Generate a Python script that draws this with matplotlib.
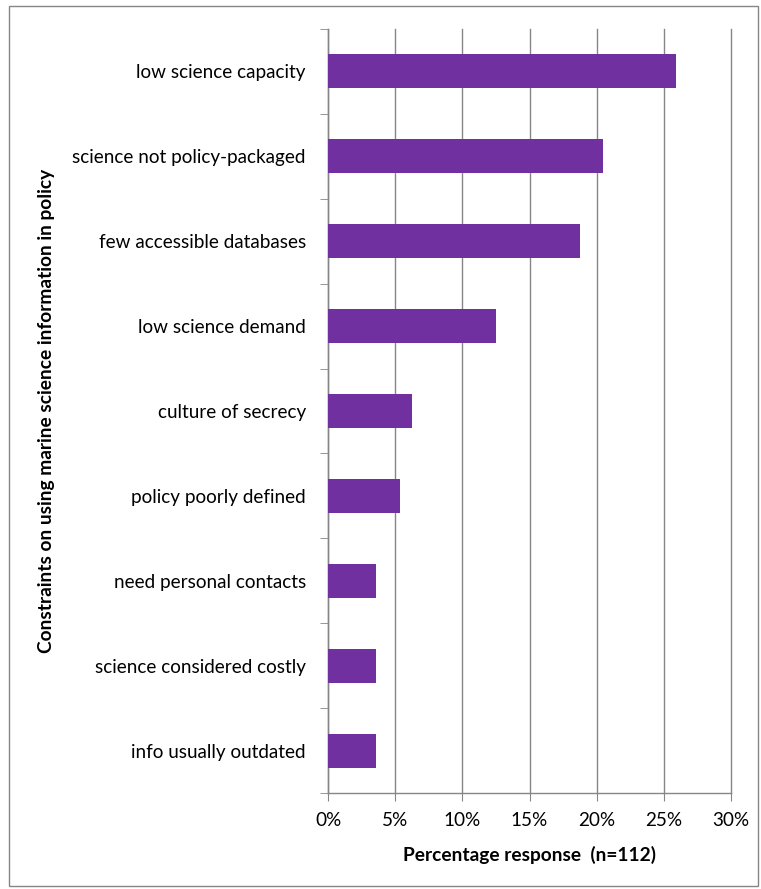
#!/usr/bin/env python3

from matplotlib import pyplot as plt
from matplotlib.patches import Rectangle
from matplotlib.ticker import FuncFormatter, FixedLocator

# categories listed top to bottom, as in the chart
CONSTRAINTS = [
    'low science capacity',
    'science not policy-packaged',
    'few accessible databases',
    'low science demand',
    'culture of secrecy',
    'policy poorly defined',
    'need personal contacts',
    'science considered costly',
    'info usually outdated',
]
PERCENT = [25.9, 20.5, 18.75, 12.5, 6.25, 5.36, 3.57, 3.57, 3.57]
X_TICKS = [0, 5, 10, 15, 20, 25, 30]

BAR_COLOR = '#7030A0'
GRID_COLOR = '#868686'

plt.rcParams['font.family'] = ['Lato', 'DejaVu Sans']

fig = plt.figure(figsize=(7.61, 8.89), dpi=100)
W, H = 761, 889
ax = fig.add_axes([328 / W, 1 - 793 / H, (731 - 328) / W, (793 - 29) / H])

n = len(CONSTRAINTS)
ypos = list(range(n))[::-1]
ax.barh(ypos, PERCENT, height=0.4, color=BAR_COLOR, zorder=3)

ax.set_xlim(0, 30)
ax.set_ylim(-0.5, n - 0.5)
ax.set_xticks(X_TICKS)
ax.xaxis.set_major_formatter(FuncFormatter(lambda v, p: f'{int(v)}%'))
ax.set_yticks(ypos)
ax.set_yticklabels(CONSTRAINTS)
ax.yaxis.set_minor_locator(FixedLocator([i - 0.5 for i in range(n + 1)]))
ax.tick_params(axis='y', which='major', length=0, pad=16, labelsize=13.6)
ax.tick_params(axis='y', which='minor', length=6, color=GRID_COLOR, direction='out')
ax.tick_params(axis='x', length=6, color=GRID_COLOR, labelsize=13.6, pad=8)

ax.grid(axis='x', color=GRID_COLOR, linewidth=1, zorder=0)
for gl in ax.get_xgridlines():
    gl.set_clip_on(False)
for s in ['top', 'right']:
    ax.spines[s].set_visible(False)
for s in ['left', 'bottom']:
    ax.spines[s].set_color(GRID_COLOR)
    ax.spines[s].set_linewidth(1)

ax.set_xlabel('Percentage response  (n=112)', fontweight='bold', fontsize=13.8, labelpad=12)
fig.text(47 / W, 1 - 411 / H, 'Constraints on using marine science information in policy',
         rotation=90, fontweight='bold', fontsize=13.8, ha='center', va='center')

fig.patches.append(Rectangle((9 / W, 1 - 886 / H), 749 / W, 880 / H,
                             transform=fig.transFigure, fill=False,
                             edgecolor='#868686', linewidth=1))

fig.savefig('out.png', dpi=100)
